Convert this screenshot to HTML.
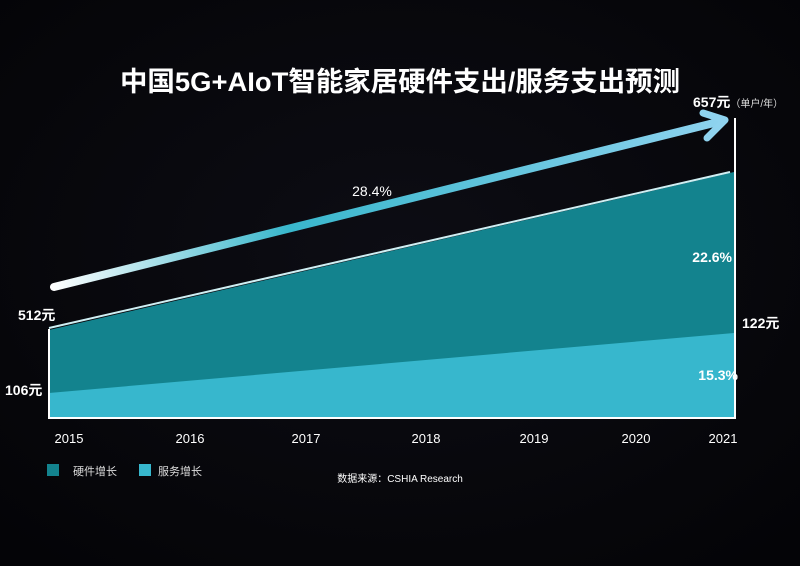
<!DOCTYPE html>
<html><head><meta charset="utf-8"><style>
html,body{margin:0;padding:0;background:#07070c;}
svg{display:block;font-family:"Liberation Sans","Noto Sans CJK SC",sans-serif;}
</style></head><body>
<svg width="800" height="566" viewBox="0 0 800 566">
<defs>
<radialGradient id="bg" cx="50%" cy="45%" r="70%"><stop offset="0" stop-color="#0d0d14"/><stop offset="1" stop-color="#040407"/></radialGradient>
<linearGradient id="ar" x1="52" y1="0" x2="727" y2="0" gradientUnits="userSpaceOnUse">
<stop offset="0" stop-color="#ffffff"/><stop offset="0.35" stop-color="#39b7cc"/><stop offset="1" stop-color="#8fd3ef"/></linearGradient>
</defs>
<rect width="800" height="566" fill="url(#bg)"/>
<text x="400" y="91" text-anchor="middle" fill="#fff" font-size="27" font-weight="bold" textLength="560" lengthAdjust="spacingAndGlyphs">中国5G+AIoT智能家居硬件支出/服务支出预测</text>
<polygon points="49,330 734,172 734,417 49,417" fill="#13838e"/>
<polygon points="49,393 734,333 734,417 49,417" fill="#37b7cd"/>
<line x1="49" y1="328" x2="730" y2="172" stroke="#cfeff3" stroke-width="2"/>
<line x1="49" y1="329" x2="49" y2="419" stroke="#fff" stroke-width="2"/>
<line x1="49" y1="418" x2="735" y2="418" stroke="#fff" stroke-width="2"/>
<line x1="735" y1="118" x2="735" y2="419" stroke="#fff" stroke-width="2"/>
<line x1="54" y1="287" x2="722" y2="121" stroke="url(#ar)" stroke-width="8" stroke-linecap="round"/>
<polyline points="703,113 725,120 707,138" fill="none" stroke="#8fd3ef" stroke-width="7" stroke-linecap="round" stroke-linejoin="round"/>
<text x="372" y="196" text-anchor="middle" fill="#fff" font-size="14">28.4%</text>
<text x="732" y="262" text-anchor="end" fill="#fff" font-size="14" font-weight="bold">22.6%</text>
<text x="738" y="380" text-anchor="end" fill="#fff" font-size="14" font-weight="bold">15.3%</text>
<text x="18" y="320" fill="#fff" font-size="14" font-weight="bold">512元</text>
<text x="5" y="395" fill="#fff" font-size="14" font-weight="bold">106元</text>
<text x="742" y="328" fill="#fff" font-size="14" font-weight="bold">122元</text>
<text x="693" y="107" fill="#fff" font-size="14" font-weight="bold">657元<tspan font-size="10" font-weight="normal" fill="#ddd">（单户/年）</tspan></text>
<g fill="#fff" font-size="13" text-anchor="middle">
<text x="69" y="443">2015</text><text x="190" y="443">2016</text><text x="306" y="443">2017</text><text x="426" y="443">2018</text><text x="534" y="443">2019</text><text x="636" y="443">2020</text><text x="723" y="443">2021</text>
</g>
<rect x="47" y="464" width="12" height="12" fill="#13838e"/>
<text x="73" y="475" fill="#ddd" font-size="11">硬件增长</text>
<rect x="139" y="464" width="12" height="12" fill="#37b7cd"/>
<text x="158" y="475" fill="#ddd" font-size="11">服务增长</text>
<text x="400" y="482" text-anchor="middle" fill="#fff" font-size="10">数据来源：CSHIA Research</text>
</svg>
</body></html>
